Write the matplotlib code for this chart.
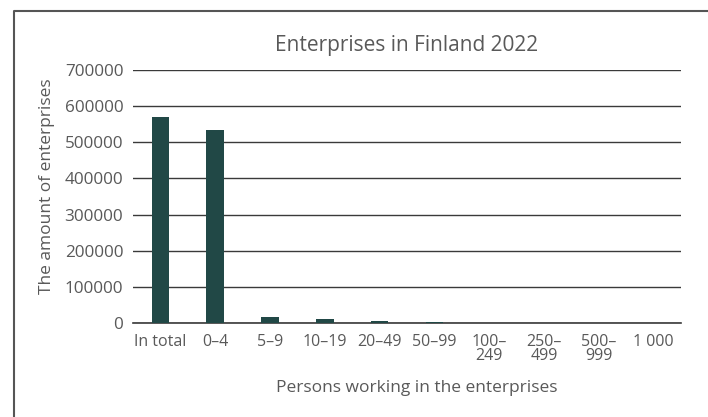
import matplotlib
matplotlib.use("Agg")
import matplotlib.pyplot as plt
from matplotlib.lines import Line2D
import numpy as np

plt.rcParams['font.family'] = ['Open Sans', 'DejaVu Sans']

# enterprises by size class (persons working)
size_classes = ["In total", "0–4", "5–9", "10–19", "20–49", "50–99",
                "100–\n249", "250–\n499", "500–\n999", "1 000"]
enterprises = [570930, 533000, 18000, 10000, 6500, 1700, 1100, 330, 170, 130]
y_ticks = [0, 100000, 200000, 300000, 400000, 500000, 600000, 700000]

text_col = "#595959"
bar_col = "#214846"

fig = plt.figure(figsize=(7.08, 4.17), dpi=100)
ax = fig.add_axes([0.1879, 0.2254, 0.7740, 0.6067])

x = np.arange(len(size_classes))
ax.bar(x, enterprises, width=0.32, color=bar_col, zorder=3)

ax.set_xlim(-0.5, len(size_classes) - 0.5)
ax.set_ylim(0, 700000)
ax.set_yticks(y_ticks)
ax.set_yticklabels([str(v) for v in y_ticks])
ax.set_xticks(x)
ax.set_xticklabels(size_classes, linespacing=0.85)

ax.grid(axis="y", color="#3a3a3a", linewidth=1.0, zorder=0)
ax.axhline(0, color="#3a3a3a", linewidth=1.2, zorder=2, clip_on=False)
for s in ax.spines.values():
    s.set_visible(False)
ax.tick_params(axis="both", length=0, labelcolor=text_col)
ax.tick_params(axis="y", pad=7, labelsize=12.3)
ax.tick_params(axis="x", pad=8, labelsize=11.5)
for lbl in ax.get_xticklabels():
    lbl.set_verticalalignment("top")

ax.set_title("Enterprises in Finland 2022", fontsize=15, color=text_col, pad=14)
ax.set_ylabel("The amount of enterprises", fontsize=12.5, color=text_col)
ax.set_xlabel("Persons working in the enterprises", fontsize=12.5, color=text_col)
ax.yaxis.set_label_coords(-0.142, 0.54)
ax.xaxis.set_label_coords(0.518, -0.225)

# box framing the chart (runs off the right and bottom edges)
fx, fy = 13.5 / 708, 1 - 10.5 / 417
fig.add_artist(Line2D([fx, fx, 1.0], [0.0, fy, fy], transform=fig.transFigure,
                      color="#555555", linewidth=1.5))

fig.savefig("out.png", dpi=100)
